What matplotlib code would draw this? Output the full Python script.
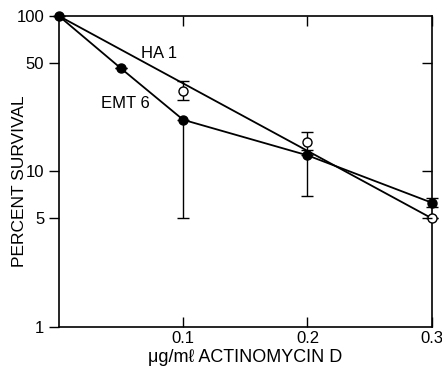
import matplotlib
matplotlib.use("Agg")
import matplotlib.pyplot as plt
import numpy as np

plt.rcParams['font.family'] = ['Liberation Sans', 'DejaVu Sans']

# EMT 6 (filled circles)
emt_dose = [0.0, 0.05, 0.1, 0.2, 0.3]
emt_surv = [100, 46, 21.5, 12.7, 6.3]
emt_lo = [100, 46, 5.0, 7.0, 5.9]
emt_hi = [100, 46, 21.5, 12.7, 6.8]

# HA 1 (open circles)
ha_dose = [0.1, 0.2, 0.3]
ha_surv = [33, 15.4, 5.0]
ha_lo = [29, 13.8, 5.0]
ha_hi = [38, 18.0, 5.0]

# HA 1 fitted line
ha_fit_dose = [0.0, 0.3]
ha_fit_surv = [100, 5.0]

fig = plt.figure(figsize=(4.42, 3.7), dpi=100)
ax = fig.add_axes([0.133, 0.116, 0.844, 0.841])

ax.plot(ha_fit_dose, ha_fit_surv, color='black', lw=1.3)
ax.plot(emt_dose, emt_surv, color='black', lw=1.3)

emt_err = [np.array(emt_surv) - np.array(emt_lo), np.array(emt_hi) - np.array(emt_surv)]
ax.errorbar(emt_dose, emt_surv, yerr=emt_err, fmt='o', color='black',
            mfc='black', ms=6.5, ecolor='black', elinewidth=1, capsize=4, clip_on=False)
ha_err = [np.array(ha_surv) - np.array(ha_lo), np.array(ha_hi) - np.array(ha_surv)]
ax.errorbar(ha_dose, ha_surv, yerr=ha_err, fmt='o', color='black',
            mfc='white', ms=6.5, ecolor='black', elinewidth=1, capsize=4, zorder=3,
            clip_on=False)

ax.set_yscale('log')
ax.set_xlim(0.0, 0.3)
ax.set_ylim(1, 100)
ax.set_yticks([1, 5, 10, 50, 100])
ax.set_yticklabels(['1', '5', '10', '50', '100'])
ax.minorticks_off()
ax.set_xticks([0.1, 0.2, 0.3])
ax.set_xticklabels(['0.1', '0.2', '0.3'])
ax.tick_params(axis='y', direction='out', length=7, width=1, labelsize=12)
ax.tick_params(axis='x', direction='in', length=7, width=1, labelsize=12, top=True, pad=3)
for s in ax.spines.values():
    s.set_linewidth(1.2)

# right-side ticks point inward
ax2 = ax.twinx()
ax2.set_yscale('log')
ax2.set_ylim(1, 100)
ax2.set_yticks([5, 10, 50])
ax2.minorticks_off()
ax2.set_yticklabels([])
ax2.tick_params(axis='y', direction='in', length=7, width=1)
for s in ax2.spines.values():
    s.set_visible(False)

ax.text(0.066, 57, 'HA 1', fontsize=12, va='center')
ax.text(0.034, 27.5, 'EMT 6', fontsize=12, va='center')
ax.set_ylabel('PERCENT SURVIVAL', fontsize=12.5)
ax.yaxis.set_label_coords(-0.086, 0.47)
ax.set_xlabel('\u03bcg/m\u2113 ACTINOMYCIN D', fontsize=13, labelpad=2)

fig.savefig('out.png', dpi=100)
